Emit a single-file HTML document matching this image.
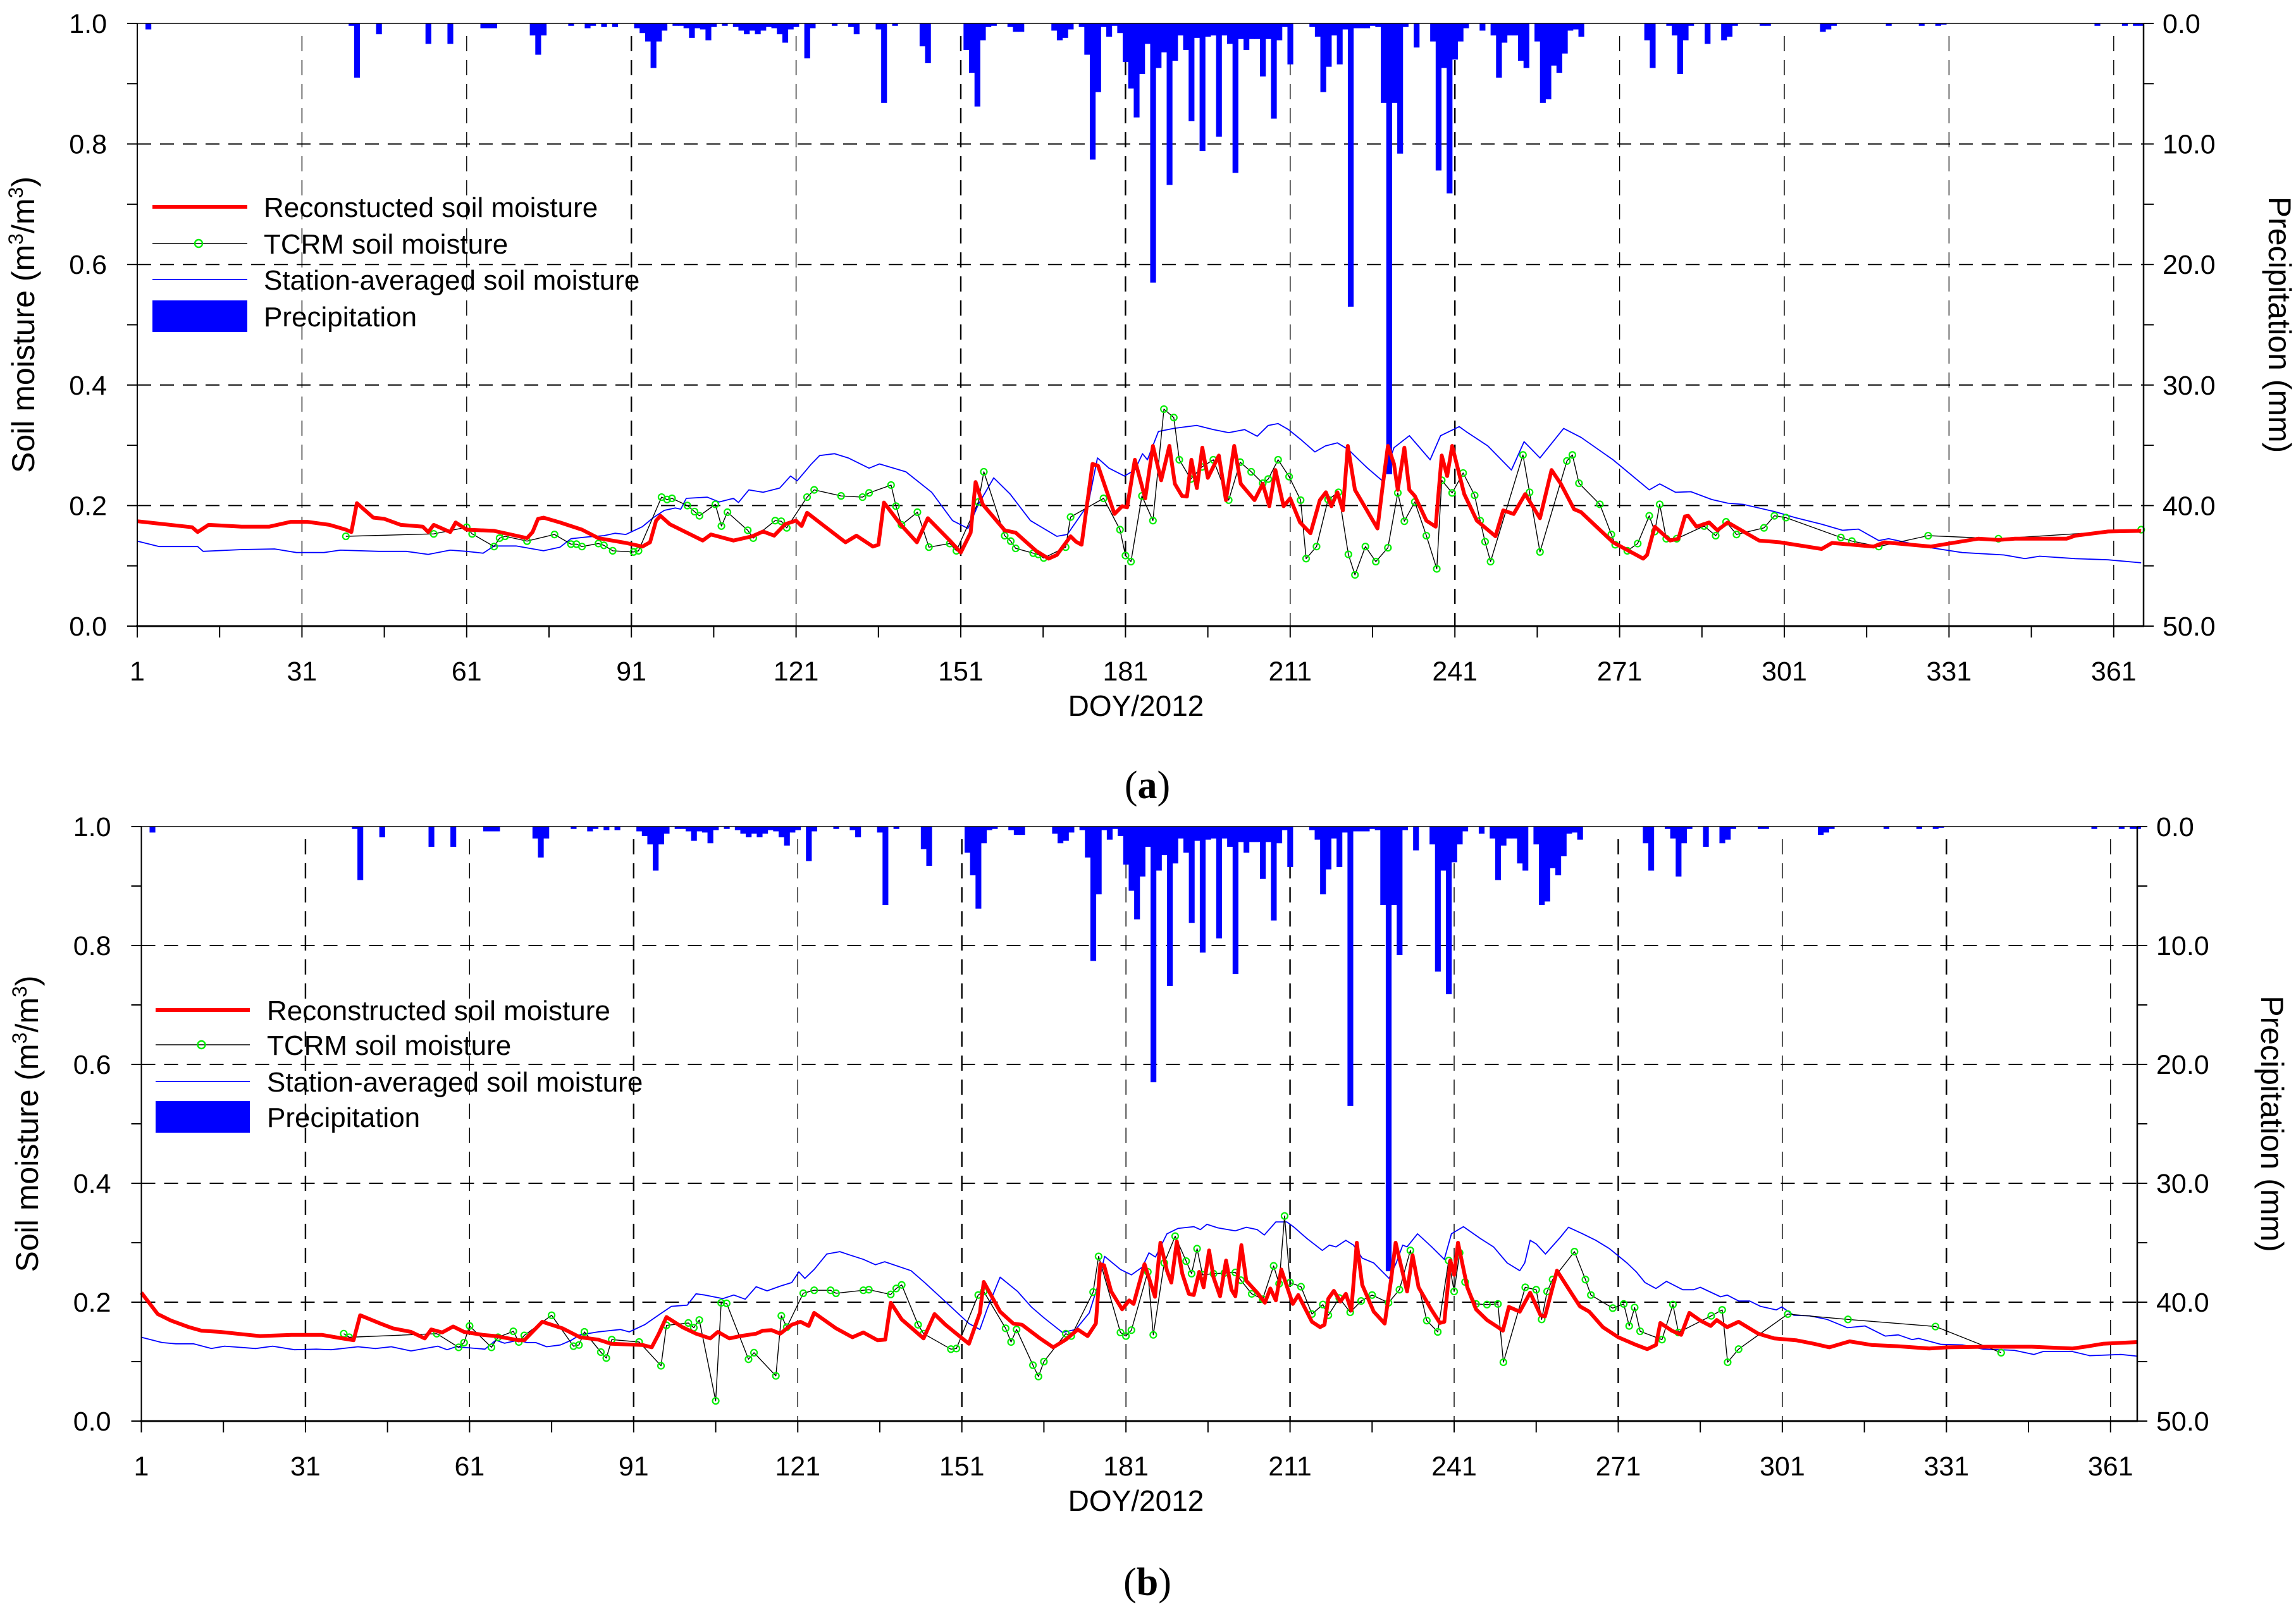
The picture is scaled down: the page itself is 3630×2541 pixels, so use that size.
<!DOCTYPE html>
<html><head><meta charset="utf-8"><title>Soil moisture DOY 2012</title>
<style>
html,body{margin:0;padding:0;background:#fff;}
svg{display:block;font-family:"Liberation Sans",Arial,sans-serif;}
</style></head>
<body>
<svg id="chart" xmlns="http://www.w3.org/2000/svg" width="3630" height="2541" viewBox="0 0 3630 2541">
<rect width="3630" height="2541" fill="#fff"/>
<text x="1814" y="1262" font-family="Liberation Serif, serif" font-size="62" text-anchor="middle">(<tspan font-weight="bold">a</tspan>)</text>
<text x="1814" y="2522" font-family="Liberation Serif, serif" font-size="62" text-anchor="middle">(<tspan font-weight="bold">b</tspan>)</text>
</svg>
<script>
// ---- data ----
const precip = [[3,0.5],[40,0.2],[41,4.5],[45,0.9],[54,1.7],[58,1.7],[64,0.4],[65,0.4],[66,0.4],[73,1],[74,2.6],[75,1],[80,0.2],[83,0.4],[84,0.2],[86,0.3],[88,0.3],[92,0.4],[93,0.8],[94,1.5],[95,3.7],[96,1.5],[97,0.6],[99,0.2],[100,0.2],[101,0.4],[102,1.2],[103,0.4],[104,0.5],[105,1.4],[106,0.3],[108,0.2],[110,0.3],[111,0.6],[112,0.9],[113,0.6],[114,0.9],[115,0.6],[116,0.3],[117,0.4],[118,0.9],[119,1.6],[120,0.5],[121,0.3],[123,2.9],[124,0.4],[128,0.2],[131,0.3],[132,0.9],[136,0.5],[137,6.6],[139,0.2],[144,1.9],[145,3.3],[152,2.2],[153,4.1],[154,6.9],[155,1.4],[156,0.3],[157,0.2],[160,0.3],[161,0.7],[162,0.7],[168,0.6],[169,1.4],[170,1.2],[171,0.5],[173,0.3],[174,2.6],[175,11.3],[176,5.7],[177,0.3],[178,1.1],[179,0.2],[180,0.8],[181,3.2],[182,5.4],[183,7.8],[184,4.2],[185,1.7],[186,21.5],[187,3.7],[188,2.4],[189,13.4],[190,3.1],[191,1],[192,2.2],[193,8.1],[194,1.2],[195,10.6],[196,1.1],[197,1],[198,9.4],[199,1],[200,1.7],[201,12.4],[202,1.3],[203,2.2],[204,1.3],[205,1.3],[206,4.4],[207,1.3],[208,7.9],[209,1.4],[210,0.3],[211,3.4],[215,0.3],[216,1.1],[217,5.7],[218,3.6],[219,1],[220,3.4],[221,0.5],[222,23.5],[223,0.4],[224,0.4],[225,0.4],[226,0.2],[227,0.3],[228,6.6],[229,37.4],[230,6.6],[231,10.8],[232,0.3],[234,2],[237,1.5],[238,12.2],[239,3.7],[240,14.1],[241,3],[242,1.5],[243,0.4],[246,0.6],[248,1],[249,4.5],[250,1.6],[251,1],[252,1],[253,3.1],[254,3.7],[256,1.5],[257,6.6],[258,6.3],[259,3.5],[260,4.1],[261,2.5],[262,0.6],[263,0.5],[264,1.1],[276,1.4],[277,3.7],[280,0.2],[281,1],[282,4.2],[283,1.4],[284,0.2],[287,1.7],[290,1.4],[291,1.1],[292,0.2],[297,0.2],[298,0.2],[308,0.7],[309,0.5],[310,0.2],[320,0.2],[326,0.2],[329,0.2],[330,0.1],[358,0.2],[363,0.2],[365,0.2],[366,0.2]];

const recA = [[1,.174],[5,.17],[11,.164],[12,.156],[14,.168],[20,.165],[25,.165],[29,.173],[32,.173],[36,.168],[39,.16],[40,.156],[41,.204],[44,.18],[46,.178],[49,.168],[53,.165],[54,.156],[55,.168],[57,.16],[58,.156],[59,.172],[61,.16],[66,.158],[70,.15],[72,.146],[73,.156],[74,.178],[75,.18],[78,.172],[82,.16],[85,.146],[90,.138],[93,.132],[94.4,.139],[95.5,.175],[96.3,.183],[98,.169],[104,.142],[105.5,.152],[109.6,.142],[113,.149],[115,.157],[117,.15],[119,.169],[121,.175],[122,.166],[123,.188],[125.7,.169],[130,.139],[132,.15],[135,.132],[136,.135],[137,.205],[140,.169],[143,.139],[145,.179],[149,.142],[151,.122],[152.8,.155],[153.7,.239],[155,.202],[159,.159],[161,.155],[164.7,.125],[167,.112],[168.5,.118],[171,.149],[172,.14],[173,.135],[175,.269],[176,.266],[179,.186],[180.4,.199],[181.3,.197],[182.7,.276],[184.6,.212],[186,.299],[187.5,.242],[189,.299],[190,.236],[191.3,.216],[192.2,.215],[193,.276],[194,.229],[195,.296],[196,.246],[198,.283],[199.3,.209],[200.8,.299],[202,.236],[204.5,.209],[206,.236],[207.2,.199],[208.3,.259],[209.8,.199],[211,.212],[212.8,.172],[214.7,.154],[216.4,.209],[217.5,.222],[218.5,.199],[219.6,.222],[220.6,.192],[221.5,.299],[222.8,.226],[226.9,.162],[227.8,.229],[228.8,.299],[229.9,.269],[230.6,.226],[231.8,.296],[232.7,.226],[233.7,.216],[235.8,.175],[237.5,.165],[238.6,.283],[239.6,.249],[240.5,.299],[242.7,.219],[245,.175],[248.4,.149],[249.8,.192],[251.7,.186],[253.8,.219],[256.5,.179],[258.6,.259],[260.3,.236],[262.7,.194],[264,.189],[269.8,.139],[275.3,.112],[276,.118],[277.4,.165],[280.2,.142],[281.7,.145],[282.9,.182],[283.5,.183],[285,.165],[287.3,.172],[288.8,.159],[290.7,.172],[296.4,.142],[300.2,.139],[307.8,.128],[309.7,.138],[317.3,.132],[319.2,.139],[327.7,.132],[336.3,.145],[340,.143],[343,.145],[352.4,.145],[354,.15],[360,.157],[366,.158]];

const blueA = [[1,.141],[5,.132],[12,.132],[13,.124],[20,.127],[26,.128],[30,.122],[35,.122],[38,.126],[45,.124],[50,.124],[54,.119],[58,.126],[61,.124],[64,.121],[66,.133],[70,.133],[75,.125],[78,.131],[80,.145],[83,.148],[86,.15],[88,.154],[90,.152],[93,.165],[95,.18],[97,.192],[99,.196],[100,.194],[101,.212],[104.8,.214],[107,.206],[109.6,.212],[110.5,.205],[112.4,.226],[115,.222],[118,.229],[120,.249],[121.2,.241],[123.8,.269],[125.3,.283],[128,.286],[130.5,.279],[134.3,.262],[136.2,.269],[141,.256],[145.7,.222],[149.5,.175],[152.3,.162],[154.2,.202],[157,.246],[160,.219],[163.7,.175],[168.5,.149],[170.4,.152],[174.2,.202],[175.9,.279],[178,.262],[180.8,.249],[182.7,.259],[184.1,.286],[185,.276],[187,.323],[189.8,.328],[192.2,.331],[194,.333],[197,.326],[199.8,.321],[202.7,.326],[205,.315],[207,.333],[208.8,.336],[210.7,.326],[213,.309],[215.5,.289],[217.4,.299],[219.6,.304],[221.6,.293],[223.5,.276],[225.1,.262],[227.8,.241],[229.9,.296],[232.7,.316],[236.5,.276],[238.4,.316],[241.8,.331],[243,.323],[247,.299],[251.3,.259],[253.6,.306],[256.5,.279],[260.8,.328],[264,.313],[269.8,.276],[276.4,.226],[278.3,.236],[281.2,.222],[284,.223],[287.8,.21],[290.7,.204],[293.5,.202],[299.2,.19],[303,.18],[307.8,.169],[311.6,.159],[314.5,.161],[318.2,.142],[320,.145],[327.7,.13],[333.4,.122],[341,.118],[344.8,.112],[347.5,.116],[354,.112],[360,.11],[366,.105]];

const tcrmA = [[39,.149],[55,.153],[61,.164],[62,.153],[66,.132],[67,.146],[68,.149],[72,.141],[77,.152],[80,.136],[81,.136],[82,.132],[85,.137],[86,.134],[87.6,.125],[91.4,.123],[92.3,.125],[96.5,.214],[97.5,.21],[98.4,.212],[101.2,.2],[102.5,.19],[103.4,.183],[106.3,.202],[107.4,.166],[108.5,.189],[112.2,.159],[113.2,.146],[117.2,.175],[118.3,.174],[119.3,.163],[123,.214],[124.3,.226],[129.2,.216],[133.1,.214],[134.3,.221],[138.3,.234],[139.2,.199],[140.2,.168],[143.1,.189],[145.2,.131],[149,.137],[150.2,.125],[154.2,.206],[155.2,.256],[159,.15],[160.1,.141],[161,.129],[164.2,.121],[165.1,.119],[166.1,.113],[170.1,.131],[171,.181],[177,.212],[180,.16],[181,.117],[182,.107],[184,.216],[186,.175],[188,.36],[189.8,.346],[190.8,.276],[192.9,.244],[194.9,.264],[197,.276],[199.8,.209],[201.9,.272],[203.9,.256],[206,.237],[207,.244],[208.8,.276],[210.8,.248],[212.9,.209],[213.9,.112],[215.8,.132],[217.9,.21],[219.8,.222],[221.6,.119],[222.8,.085],[224.7,.132],[226.6,.107],[228.8,.13],[230.6,.221],[231.8,.174],[233.7,.206],[235.8,.15],[237.7,.095],[238.6,.242],[240.5,.221],[242.5,.254],[244.6,.217],[245.6,.175],[246.5,.14],[247.5,.107],[253.4,.284],[254.6,.222],[256.5,.123],[261.4,.274],[262.4,.284],[263.6,.237],[267.4,.202],[269.5,.152],[270.2,.135],[272.4,.125],[274.3,.137],[276.4,.183],[277.4,.157],[278.3,.202],[279.5,.145],[281.4,.145],[286.4,.166],[288.5,.15],[290.4,.173],[292.3,.152],[297.3,.163],[299.2,.183],[301.3,.18],[311.3,.147],[313.3,.141],[318.2,.132],[327.2,.15],[340,.145],[366,.16]];

const recB = [[1,.216],[4,.18],[6.4,.169],[9.7,.158],[12,.152],[15.4,.15],[19.5,.146],[22.7,.143],[28.4,.145],[34,.145],[36.5,.141],[39.8,.136],[41,.178],[44.7,.164],[47,.156],[50.3,.15],[52.8,.139],[54,.154],[56,.149],[58,.159],[60,.15],[63.4,.145],[65.8,.143],[69.9,.136],[71,.136],[74.3,.167],[78,.156],[81.2,.141],[84.5,.137],[86.9,.13],[92.6,.128],[94.3,.124],[95.5,.145],[97,.175],[99.9,.158],[102.4,.147],[105,.139],[106.4,.15],[108.5,.139],[110.5,.143],[113.4,.147],[114.6,.152],[116.2,.153],[117.8,.147],[119.9,.162],[121.5,.167],[123,.16],[124,.182],[128,.156],[131,.141],[133,.149],[135.6,.136],[137,.137],[138,.199],[140,.171],[144,.139],[146,.18],[148,.162],[150,.147],[152.3,.13],[154.3,.182],[155,.234],[158,.184],[160.4,.164],[162,.162],[165.3,.139],[167.7,.124],[170,.137],[172.2,.154],[174,.143],[175.5,.164],[176.3,.264],[177,.262],[178.3,.218],[180.3,.188],[181.6,.203],[182.4,.197],[184.4,.264],[186.3,.209],[187.3,.3],[188.5,.253],[189.3,.233],[190.3,.302],[191.3,.248],[192.5,.214],[193.4,.212],[194.4,.251],[195.2,.225],[196.2,.287],[197,.242],[198.2,.21],[199.3,.27],[200.3,.221],[201,.21],[202.1,.296],[203,.236],[205,.216],[206.4,.199],[207.4,.223],[208.4,.203],[209.4,.255],[211.5,.197],[212.5,.212],[215,.167],[216.5,.158],[217.3,.162],[218,.206],[219,.219],[220.2,.201],[221.2,.214],[222.2,.186],[223.2,.3],[224.2,.229],[226.3,.184],[228.3,.164],[229.5,.24],[230.3,.3],[232.4,.218],[233.4,.279],[234.5,.225],[236.8,.188],[238.4,.165],[239.2,.167],[240.3,.27],[241,.246],[241.7,.3],[243.4,.225],[245,.188],[247,.17],[249,.158],[249.9,.152],[251,.192],[253,.184],[254.9,.216],[256.8,.178],[257.6,.176],[259.8,.253],[262.5,.214],[264,.193],[265.7,.184],[268.2,.158],[271,.141],[274.3,.128],[276.3,.121],[277.9,.128],[278.7,.165],[280.8,.152],[282.5,.145],[284,.182],[286,.169],[287.9,.16],[289,.17],[290.9,.158],[293,.167],[296.6,.147],[299.5,.139],[303.5,.136],[306.8,.13],[309.6,.124],[313.3,.134],[317.3,.128],[322,.126],[327.9,.122],[331.2,.124],[338.5,.125],[346.6,.125],[354,.122],[357,.126],[359.6,.13],[366,.133]];

const blueB = [[1,.141],[4.8,.132],[7.3,.13],[10.5,.13],[13.8,.122],[16.2,.126],[21.9,.122],[25,.126],[29,.12],[33,.121],[35.7,.12],[40.6,.125],[43.8,.122],[46.7,.125],[50.3,.118],[55.2,.126],[56.9,.12],[58.5,.125],[63.8,.121],[65.8,.136],[67.4,.131],[69.9,.136],[71.5,.132],[73.1,.132],[75.1,.125],[77.6,.128],[79.6,.136],[81.2,.145],[84.5,.15],[88.6,.154],[90.2,.15],[93,.162],[95.5,.178],[97.9,.193],[100.8,.195],[102.4,.214],[104,.212],[107.3,.206],[109.3,.212],[111.4,.205],[113.4,.226],[115.4,.219],[117.8,.227],[119.9,.233],[121.2,.251],[122.3,.24],[124,.255],[126.3,.281],[128.7,.285],[130.3,.28],[133,.272],[135.2,.263],[136.9,.268],[141.7,.253],[144.2,.233],[148.2,.199],[152.3,.164],[154.3,.154],[155.6,.188],[158,.242],[161.2,.218],[163.7,.192],[166.1,.173],[169.4,.149],[171.8,.154],[174.3,.182],[175.9,.229],[177.1,.277],[180,.255],[182,.246],[184,.259],[185.2,.283],[186.4,.276],[188.5,.315],[190.5,.324],[193.4,.327],[194.6,.322],[195.8,.331],[197.8,.325],[201,.32],[203,.326],[205,.322],[206.3,.313],[208.4,.335],[210.4,.335],[211.6,.327],[214.1,.307],[216.9,.287],[218.2,.296],[219.4,.293],[221.2,.304],[222.6,.296],[224.2,.274],[226.3,.266],[229.1,.24],[230.4,.266],[231.6,.296],[232.4,.293],[234.3,.315],[236.9,.293],[239.2,.272],[240.5,.315],[242.7,.327],[245.8,.307],[248.2,.293],[250.7,.266],[253,.253],[253.9,.266],[254.9,.304],[256,.298],[257.7,.281],[260.4,.309],[261.9,.326],[264.5,.315],[266.9,.304],[269.4,.29],[272.6,.266],[274.3,.251],[275.9,.233],[277.9,.223],[279.8,.235],[282.8,.221],[284.8,.221],[286,.225],[289.7,.209],[290.9,.212],[293,.202],[295,.202],[297,.193],[299.9,.187],[300.9,.192],[303.1,.178],[306,.177],[309.2,.171],[312.9,.157],[316.1,.16],[319.8,.143],[322.2,.145],[324.7,.137],[325.9,.139],[330,.129],[334,.128],[337.7,.121],[343.4,.119],[347,.112],[348.7,.117],[354,.117],[357.2,.11],[362.9,.112],[366,.109]];

const tcrmB = [[38,.147],[39,.141],[55,.147],[59,.124],[60,.132],[61,.16],[65,.124],[66.2,.141],[69,.151],[70,.133],[71,.144],[76,.178],[80,.126],[81,.128],[82,.15],[85,.116],[86,.106],[87,.137],[92,.133],[96,.093],[97,.161],[101,.165],[102,.157],[103,.17],[106,.034],[107,.199],[108,.198],[112,.104],[113,.115],[117,.076],[118,.177],[119,.158],[122,.215],[124,.22],[127,.22],[128,.215],[133,.22],[134,.221],[138,.213],[139,.223],[140,.229],[143,.162],[144,.147],[149,.121],[150,.122],[154,.212],[155,.218],[159,.156],[160,.133],[161,.154],[164,.094],[165,.075],[166,.1],[170,.147],[171,.143],[175,.217],[176,.277],[180,.149],[181,.143],[182,.153],[185,.251],[186,.145],[188,.266],[190,.311],[192,.269],[193,.248],[194,.29],[195,.246],[197,.248],[199,.249],[201,.25],[202,.237],[204,.214],[206,.205],[208,.261],[209,.231],[210,.345],[211,.233],[213,.226],[215,.18],[217,.196],[218,.178],[220,.207],[222,.183],[224,.202],[226,.212],[229,.199],[231,.221],[233,.287],[236,.169],[238,.15],[240,.27],[241,.218],[242,.283],[243,.234],[245,.197],[247,.196],[249,.197],[250,.099],[254,.225],[256,.221],[257,.171],[258,.218],[259,.238],[263,.285],[265,.238],[266,.212],[270,.19],[272,.197],[273,.16],[274,.191],[275,.151],[279,.137],[281,.196],[282,.149],[288,.177],[290,.187],[291,.099],[293,.121],[302,.18],[313,.171],[329,.159],[341,.115]];

const xTicks = [1,31,61,91,121,151,181,211,241,271,301,331,361];
const yTicks = ["0.0","0.2","0.4","0.6","0.8","1.0"];
const pTicks = ["0.0","10.0","20.0","30.0","40.0","50.0"];

// ---- drawing ----
const NS = "http://www.w3.org/2000/svg";
const svg = document.getElementById("chart");
function mk(tag, attrs, parent){
  const e = document.createElementNS(NS, tag);
  for (const k in attrs) e.setAttribute(k, attrs[k]);
  (parent||svg).appendChild(e);
  return e;
}

function drawPanel(p){
  const g = mk("g", {});
  
  
  const X = d => p.x0 + (d - 1) * p.dx;
  const Y = v => p.yb - v * (p.yb - p.yt);
  const P = mm => p.yt + mm * (p.yb - p.yt) / 50;
  const right = p.xr;

  // grid
  for (let i = 1; i <= 4; i++) {
    const y = Y(i * 0.2);
    const l = mk("line", {x1: p.x0, x2: right, y1: y, y2: y, stroke: "#000", "stroke-width": 2, "stroke-dasharray": "22 14"}, g);
    
    
  }
  xTicks.forEach(d => {
    if (d === 1) return;
    const l = mk("line", {x1: X(d), x2: X(d), y1: p.yt + 20, y2: p.yb, stroke: "#000", "stroke-width": p.bold.includes(d) ? 2.4 : 1.4, "stroke-dasharray": "24 14"}, g);
    
    
  });

  // precipitation bars
  precip.forEach(([d, mm]) => {
    const r = mk("rect", {x: X(d) - p.dx / 2, y: p.yt, width: p.dx + 0.5, height: P(mm) - p.yt, fill: "#0000ff"}, g);
    
    
  });

  const poly = (arr, color, w, name) => {
    const pl = mk("polyline", {points: arr.map(([d, v]) => X(d).toFixed(1) + "," + Y(v).toFixed(1)).join(" "), fill: "none", stroke: color, "stroke-width": w, "stroke-linejoin": "round"}, g);
    
    
  };
  poly(p.blue, "#0000ff", 1.8, "station-averaged-line");
  poly(p.tcrm, "#000", 1.4, "tcrm-line");
  p.tcrm.forEach(([d, v]) => {
    const c = mk("circle", {cx: X(d), cy: Y(v), r: 5, fill: "none", stroke: "#00ee00", "stroke-width": 2.2}, g);
    
    
  });
  poly(p.rec, "#ff0000", 6, "reconstructed-line");

  // axes
  mk("line", {x1: p.x0, x2: right, y1: p.yt, y2: p.yt, stroke: "#000", "stroke-width": 1.5}, g);
  const xa = mk("line", {x1: p.x0 - 2, x2: right + 1, y1: p.yb, y2: p.yb, stroke: "#000", "stroke-width": 3}, g);
  
  
  const ya = mk("line", {x1: p.x0, x2: p.x0, y1: p.yt, y2: p.yb + 1, stroke: "#000", "stroke-width": 2}, g);
  
  
  const yr = mk("line", {x1: right, x2: right, y1: p.yt, y2: p.yb + 1, stroke: "#000", "stroke-width": 2.5}, g);
  
  

  for (let i = 0; i <= 10; i++) {
    const y = p.yb - i * (p.yb - p.yt) / 10;
    mk("line", {x1: p.x0 - 16, x2: p.x0, y1: y, y2: y, stroke: "#000", "stroke-width": 2}, g);
    mk("line", {x1: right, x2: right + 16, y1: y, y2: y, stroke: "#000", "stroke-width": 2}, g);
  }
  for (let d = 1; d <= 366; d += 15) {
    mk("line", {x1: X(d), x2: X(d), y1: p.yb, y2: p.yb + 18, stroke: "#000", "stroke-width": 2}, g);
  }
  yTicks.forEach((t, i) => {
    const tx = mk("text", {x: p.x0 - 48, y: Y(i * 0.2) + 15, "font-size": 43, "text-anchor": "end"}, g);
    tx.textContent = t;
    
    
  });
  pTicks.forEach((t, i) => {
    const tx = mk("text", {x: right + 30, y: P(i * 10) + 15, "font-size": 43}, g);
    tx.textContent = t;
    
    
  });
  xTicks.forEach(d => {
    const tx = mk("text", {x: X(d), y: p.yb + 86, "font-size": 43, "text-anchor": "middle"}, g);
    tx.textContent = String(d);
    
    
  });
  const xt = mk("text", {x: 1796, y: p.yb + 142, "font-size": 46, "text-anchor": "middle"}, g);
  xt.textContent = "DOY/2012";
  
  

  const ym = (p.yt + p.yb) / 2;
  const lt = mk("text", {x: 0, y: 0, "font-size": 50, "text-anchor": "middle", transform: `translate(${p.ltx},${ym}) rotate(-90)`}, g);
  lt.innerHTML = 'Soil moisture (m<tspan dy="-18" font-size="32">3</tspan><tspan dy="18">/m</tspan><tspan dy="-18" font-size="32">3</tspan><tspan dy="18">)</tspan>';
  
  
  const rt = mk("text", {x: 0, y: 0, "font-size": 50, "text-anchor": "middle", transform: `translate(${p.rtx},${ym}) rotate(90)`}, g);
  rt.textContent = "Precipitation (mm)";
  
  

  // legend
  const lg = mk("g", {}, g);
  
  
  const L = p.leg;
  mk("line", {x1: L.x1, x2: L.x2, y1: L.ys[0], y2: L.ys[0], stroke: "#ff0000", "stroke-width": 6}, lg);
  mk("line", {x1: L.x1, x2: L.x2, y1: L.ys[1], y2: L.ys[1], stroke: "#000", "stroke-width": 1.4}, lg);
  mk("circle", {cx: (L.x1 + L.x2) / 2 - 2, cy: L.ys[1], r: 6, fill: "none", stroke: "#00ee00", "stroke-width": 2.4}, lg);
  mk("line", {x1: L.x1, x2: L.x2, y1: L.ys[2], y2: L.ys[2], stroke: "#0000ff", "stroke-width": 1.8}, lg);
  mk("rect", {x: L.x1, y: L.ys[3] - 25, width: L.x2 - L.x1, height: 50, fill: "#0000ff"}, lg);
  L.labels.forEach((t, i) => {
    const tx = mk("text", {x: L.tx, y: L.ys[i] + 16, "font-size": 44}, lg);
    tx.textContent = t;
    
    
  });
}

drawPanel({id: "a", x0: 217, dx: 8.68, xr: 3389, yt: 37, yb: 990, ltx: 54, rtx: 3587,
  rec: recA, blue: blueA, tcrm: tcrmA, bold: [91, 151, 181, 241],
  leg: {x1: 241, x2: 391, tx: 417, ys: [327, 385, 442, 500],
    labels: ["Reconstucted soil moisture", "TCRM soil moisture", "Station-averaged soil moisture", "Precipitation"]}});
drawPanel({id: "b", x0: 223.5, dx: 8.648, xr: 3379, yt: 1307, yb: 2247, ltx: 60, rtx: 3575,
  rec: recB, blue: blueB, tcrm: tcrmB, bold: [31, 91, 151, 211, 271, 331],
  leg: {x1: 246, x2: 395, tx: 422, ys: [1597, 1652, 1710, 1766],
    labels: ["Reconstructed soil moisture", "TCRM soil moisture", "Station-averaged soil moisture", "Precipitation"]}});
</script>
</body></html>
